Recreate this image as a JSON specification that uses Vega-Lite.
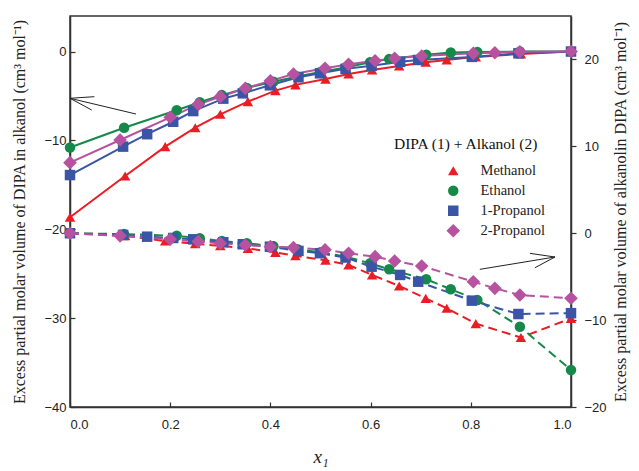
{
  "$schema": "https://vega.github.io/schema/vega-lite/v6.json",
  "width": 501,
  "height": 391,
  "autosize": {"type": "none"},
  "padding": {"left": 70, "top": 16, "right": 68, "bottom": 64},
  "background": "white",
  "config": {
    "view": {"stroke": "#333", "strokeWidth": 1.5},
    "axis": {
      "grid": false,
      "domainColor": "#333",
      "domainWidth": 1.5,
      "tickColor": "#333",
      "tickWidth": 1.2,
      "labelFont": "Liberation Sans",
      "labelFontSize": 13,
      "labelColor": "#222",
      "titleFont": "Liberation Serif",
      "titleFontWeight": "normal",
      "titleColor": "#222"
    },
    "legend": {
      "titleFont": "Liberation Serif",
      "titleFontSize": 15.5,
      "titleFontWeight": "normal",
      "titleColor": "#111",
      "labelFont": "Liberation Serif",
      "labelFontSize": 14.5,
      "labelColor": "#222"
    }
  },
  "datasets": {
    "curves": [
      {"alk": "Methanol", "x": 0, "up": -18.65, "low": 0},
      {"alk": "Methanol", "x": 0.11, "up": -14.0, "low": -0.3},
      {"alk": "Methanol", "x": 0.19, "up": -10.7, "low": -0.9},
      {"alk": "Methanol", "x": 0.25, "up": -8.57, "low": -1.2},
      {"alk": "Methanol", "x": 0.30, "up": -7.06, "low": -1.45},
      {"alk": "Methanol", "x": 0.355, "up": -5.64, "low": -1.75},
      {"alk": "Methanol", "x": 0.41, "up": -4.4, "low": -2.2},
      {"alk": "Methanol", "x": 0.45, "up": -3.75, "low": -2.6},
      {"alk": "Methanol", "x": 0.51, "up": -3.1, "low": -3.1},
      {"alk": "Methanol", "x": 0.556, "up": -2.53, "low": -3.66},
      {"alk": "Methanol", "x": 0.603, "up": -2.08, "low": -4.8},
      {"alk": "Methanol", "x": 0.657, "up": -1.63, "low": -6.07},
      {"alk": "Methanol", "x": 0.71, "up": -1.2, "low": -7.5},
      {"alk": "Methanol", "x": 0.752, "up": -0.95, "low": -8.64},
      {"alk": "Methanol", "x": 0.81, "up": -0.6, "low": -10.4},
      {"alk": "Methanol", "x": 0.90, "up": -0.28, "low": -12.0},
      {"alk": "Methanol", "x": 1.0, "up": 0, "low": -9.8},
      {"alk": "Ethanol", "x": 0, "up": -10.8, "low": 0},
      {"alk": "Ethanol", "x": 0.108, "up": -8.57, "low": -0.1},
      {"alk": "Ethanol", "x": 0.213, "up": -6.6, "low": -0.3},
      {"alk": "Ethanol", "x": 0.259, "up": -5.7, "low": -0.58},
      {"alk": "Ethanol", "x": 0.303, "up": -4.9, "low": -0.9},
      {"alk": "Ethanol", "x": 0.353, "up": -4.1, "low": -1.16},
      {"alk": "Ethanol", "x": 0.406, "up": -3.4, "low": -1.5},
      {"alk": "Ethanol", "x": 0.454, "up": -2.8, "low": -1.85},
      {"alk": "Ethanol", "x": 0.50, "up": -2.3, "low": -2.2},
      {"alk": "Ethanol", "x": 0.55, "up": -1.8, "low": -2.7},
      {"alk": "Ethanol", "x": 0.599, "up": -1.2, "low": -3.46},
      {"alk": "Ethanol", "x": 0.637, "up": -0.85, "low": -4.15},
      {"alk": "Ethanol", "x": 0.711, "up": -0.35, "low": -5.3},
      {"alk": "Ethanol", "x": 0.76, "up": -0.1, "low": -6.45},
      {"alk": "Ethanol", "x": 0.813, "up": -0.05, "low": -7.68},
      {"alk": "Ethanol", "x": 0.898, "up": 0, "low": -10.76},
      {"alk": "Ethanol", "x": 1.0, "up": 0, "low": -15.74},
      {"alk": "1-Propanol", "x": 0, "up": -13.9, "low": 0},
      {"alk": "1-Propanol", "x": 0.106, "up": -10.7, "low": -0.2},
      {"alk": "1-Propanol", "x": 0.154, "up": -9.3, "low": -0.4},
      {"alk": "1-Propanol", "x": 0.206, "up": -7.9, "low": -0.55},
      {"alk": "1-Propanol", "x": 0.246, "up": -6.7, "low": -0.7},
      {"alk": "1-Propanol", "x": 0.306, "up": -5.3, "low": -1.04},
      {"alk": "1-Propanol", "x": 0.345, "up": -4.7, "low": -1.27},
      {"alk": "1-Propanol", "x": 0.399, "up": -3.8, "low": -1.55},
      {"alk": "1-Propanol", "x": 0.456, "up": -2.9, "low": -2.04},
      {"alk": "1-Propanol", "x": 0.499, "up": -2.45, "low": -2.3},
      {"alk": "1-Propanol", "x": 0.55, "up": -1.95, "low": -2.8},
      {"alk": "1-Propanol", "x": 0.602, "up": -1.6, "low": -3.85},
      {"alk": "1-Propanol", "x": 0.659, "up": -1.15, "low": -4.8},
      {"alk": "1-Propanol", "x": 0.695, "up": -0.95, "low": -5.58},
      {"alk": "1-Propanol", "x": 0.802, "up": -0.6, "low": -7.76},
      {"alk": "1-Propanol", "x": 0.895, "up": -0.2, "low": -9.3},
      {"alk": "1-Propanol", "x": 1.0, "up": 0, "low": -9.2},
      {"alk": "2-Propanol", "x": 0, "up": -12.5, "low": 0},
      {"alk": "2-Propanol", "x": 0.1, "up": -9.95, "low": -0.3},
      {"alk": "2-Propanol", "x": 0.2, "up": -7.4, "low": -0.7},
      {"alk": "2-Propanol", "x": 0.256, "up": -5.94, "low": -0.95},
      {"alk": "2-Propanol", "x": 0.3, "up": -5.08, "low": -1.15},
      {"alk": "2-Propanol", "x": 0.35, "up": -4.14, "low": -1.35},
      {"alk": "2-Propanol", "x": 0.4, "up": -3.3, "low": -1.55},
      {"alk": "2-Propanol", "x": 0.446, "up": -2.53, "low": -1.65},
      {"alk": "2-Propanol", "x": 0.509, "up": -1.89, "low": -1.9},
      {"alk": "2-Propanol", "x": 0.556, "up": -1.44, "low": -2.31},
      {"alk": "2-Propanol", "x": 0.609, "up": -1.03, "low": -2.7},
      {"alk": "2-Propanol", "x": 0.648, "up": -0.76, "low": -3.2},
      {"alk": "2-Propanol", "x": 0.702, "up": -0.5, "low": -3.77},
      {"alk": "2-Propanol", "x": 0.805, "up": -0.2, "low": -5.58},
      {"alk": "2-Propanol", "x": 0.848, "up": -0.13, "low": -6.34},
      {"alk": "2-Propanol", "x": 0.898, "up": -0.02, "low": -7.11},
      {"alk": "2-Propanol", "x": 1.0, "up": 0, "low": -7.49}
    ],
    "arrows": [
      {"x": 0.1317, "y": -7.03, "x2": 0, "y2": -5.26},
      {"x": 0, "y": -5.26, "x2": 0.0486, "y2": -5.08},
      {"x": 0, "y": -5.26, "x2": 0.0433, "y2": -6.58},
      {"x": 0.818, "y": -24.51, "x2": 0.968, "y2": -23.12},
      {"x": 0.968, "y": -23.12, "x2": 0.918, "y2": -22.71},
      {"x": 0.968, "y": -23.12, "x2": 0.928, "y2": -24.33}
    ]
  },
  "layer": [
    {
      "data": {"name": "curves"},
      "layer": [
        {
          "mark": {"type": "line", "strokeWidth": 2},
          "encoding": {
            "detail": {"field": "alk"},
            "color": {"field": "alk", "type": "nominal"}
          }
        },
        {
          "mark": {"type": "point", "filled": true, "opacity": 1, "size": 110},
          "encoding": {
            "color": {"field": "alk", "type": "nominal"},
            "shape": {"field": "alk", "type": "nominal"}
          }
        }
      ],
      "encoding": {
        "x": {
          "field": "x", "type": "quantitative",
          "scale": {"domain": [0, 1], "nice": false},
          "axis": {"values": [0, 0.2, 0.4, 0.6, 0.8, 1.0], "format": ".1f", "tickSize": -5, "labelPadding": 16, "title": "x₁", "titleFont": "Liberation Serif", "titleFontStyle": "italic", "titleFontSize": 19, "titlePadding": 16}
        },
        "y": {
          "field": "up", "type": "quantitative",
          "scale": {"domain": [-40, 4], "nice": false, "zero": false},
          "axis": {"values": [0, -10, -20, -30, -40], "orient": "left", "tickSize": -5, "labelPadding": 9, "title": "Excess partial molar volume of DIPA in alkanol (cm³ mol⁻¹)", "titleFontSize": 16, "titlePadding": 16}
        },
        "color": {
          "field": "alk", "type": "nominal",
          "scale": {"domain": ["Methanol", "Ethanol", "1-Propanol", "2-Propanol"], "range": ["#ec1c24", "#14894a", "#3a55a6", "#b6529f"]},
          "legend": {
            "title": "DIPA (1) + Alkanol (2)",
            "orient": "none", "legendX": 324, "legendY": 121,
            "symbolOffset": 52, "labelOffset": 20, "rowPadding": 5, "titlePadding": 11,
            "symbolSize": 110, "symbolStrokeWidth": 0
          }
        },
        "shape": {
          "field": "alk", "type": "nominal",
          "scale": {"domain": ["Methanol", "Ethanol", "1-Propanol", "2-Propanol"], "range": ["triangle-up", "circle", "square", "M0,-1.3L1.3,0L0,1.3L-1.3,0Z"]},
          "legend": {
            "title": "DIPA (1) + Alkanol (2)",
            "orient": "none", "legendX": 324, "legendY": 121,
            "symbolOffset": 52, "labelOffset": 20, "rowPadding": 5, "titlePadding": 11,
            "symbolSize": 110, "symbolStrokeWidth": 0
          }
        }
      }
    },
    {
      "data": {"name": "curves"},
      "layer": [
        {
          "mark": {"type": "line", "strokeWidth": 2, "strokeDash": [9, 5]},
          "encoding": {
            "detail": {"field": "alk"},
            "color": {"field": "alk", "type": "nominal"}
          }
        },
        {
          "mark": {"type": "point", "filled": true, "opacity": 1, "size": 110},
          "encoding": {
            "color": {"field": "alk", "type": "nominal"},
            "shape": {"field": "alk", "type": "nominal"}
          }
        }
      ],
      "encoding": {
        "x": {"field": "x", "type": "quantitative"},
        "y": {
          "field": "low", "type": "quantitative",
          "scale": {"domain": [-20, 25], "nice": false, "zero": false},
          "axis": {"values": [20, 10, 0, -10, -20], "orient": "right", "tickSize": 5, "labelPadding": 8, "title": "Excess partial molar volume of alkanolin DIPA (cm³ mol⁻¹)", "titleFontSize": 16, "titlePadding": 22, "titleAngle": 270}
        }
      }
    },
    {
      "data": {"name": "arrows"},
      "mark": {"type": "rule", "strokeWidth": 1, "color": "#222"},
      "encoding": {
        "x": {"field": "x", "type": "quantitative"},
        "x2": {"field": "x2"},
        "y": {"field": "y", "type": "quantitative", "scale": {"domain": [-40, 4], "nice": false, "zero": false}, "axis": null},
        "y2": {"field": "y2"}
      }
    }
  ],
  "resolve": {"scale": {"y": "independent"}}
}
